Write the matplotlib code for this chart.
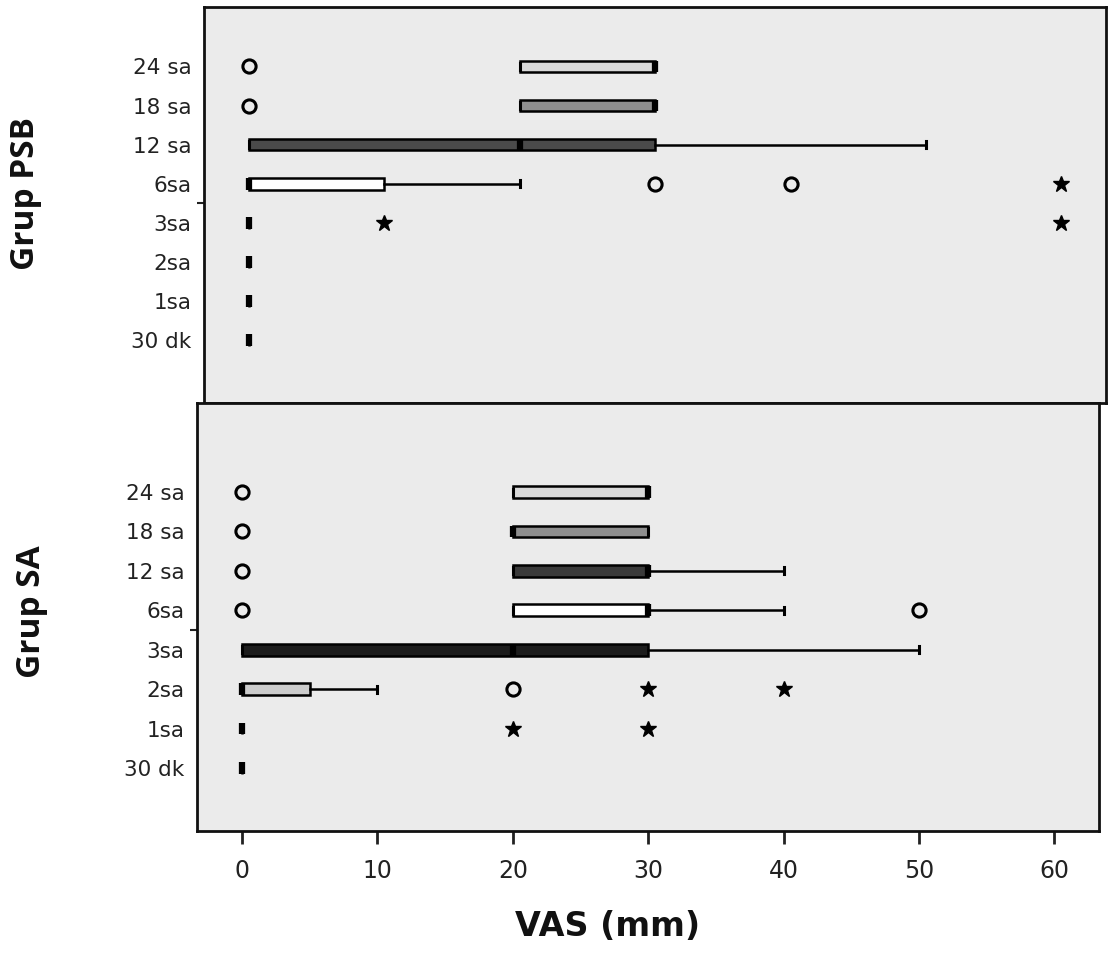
import matplotlib.pyplot as plt

# categories from bottom to top
categories = ['30 dk', '1sa', '2sa', '3sa', '6sa', '12 sa', '18 sa', '24 sa']

# Grup PSB box stats (VAS mm)
psb_q1 = [0, 0, 0, 0, 0, 0, 20, 20]
psb_med = [0, 0, 0, 0, 0, 20, 30, 30]
psb_q3 = [0, 0, 0, 0, 10, 30, 30, 30]
psb_wlo = [0, 0, 0, 0, 0, 0, 20, 20]
psb_whi = [0, 0, 0, 0, 20, 50, 30, 30]
psb_circles = [[], [], [], [], [30, 40], [], [0], [0]]
psb_stars = [[], [], [], [10, 60], [60], [], [], []]
psb_colors = ['#202020', '#202020', '#202020', '#202020', '#ffffff', '#4a4a4a', '#8e8e8e', '#d8d8d8']

# Grup SA box stats (VAS mm)
sa_q1 = [0, 0, 0, 0, 20, 20, 20, 20]
sa_med = [0, 0, 0, 20, 30, 30, 20, 30]
sa_q3 = [0, 0, 5, 30, 30, 30, 30, 30]
sa_wlo = [0, 0, 0, 0, 20, 20, 20, 20]
sa_whi = [0, 0, 10, 50, 40, 40, 30, 30]
sa_circles = [[], [], [20], [], [0, 50], [0], [0], [0]]
sa_stars = [[], [20, 30], [30, 40], [], [], [], [], []]
sa_colors = ['#202020', '#202020', '#cccccc', '#1c1c1c', '#ffffff', '#3a3a3a', '#8e8e8e', '#d8d8d8']

x_ticks = [0, 10, 20, 30, 40, 50, 60]

W, H = 1114, 956
fig = plt.figure(figsize=(W / 100, H / 100), dpi=100)


def px_axes(left, right, top, bottom):
    return fig.add_axes([left / W, 1 - bottom / H, (right - left) / W, (bottom - top) / H])


def draw_group(ax, q1, med, q3, wlo, whi, circles, stars, colors, ylim):
    stats = []
    for i in range(len(categories)):
        stats.append({'q1': q1[i], 'med': med[i], 'q3': q3[i],
                      'whislo': wlo[i], 'whishi': whi[i],
                      'fliers': circles[i], 'label': categories[i]})
    pos = list(range(len(categories)))
    bp = ax.bxp(stats, positions=pos, orientation='horizontal', widths=0.3,
                patch_artist=True, capwidths=0.18,
                boxprops=dict(edgecolor='black', linewidth=1.8),
                medianprops=dict(color='black', linewidth=4.5, solid_capstyle='butt'),
                whiskerprops=dict(color='black', linewidth=1.8),
                capprops=dict(color='black', linewidth=2.2),
                flierprops=dict(marker='o', markersize=9.5, markerfacecolor='none',
                                markeredgecolor='black', markeredgewidth=2.2))
    for patch, c in zip(bp['boxes'], colors):
        patch.set_facecolor(c)
    for i, s in enumerate(stars):
        if s:
            ax.plot(s, [pos[i]] * len(s), linestyle='none', marker='*', markersize=12,
                    color='black')
    ax.set_xlim(-3.33, 63.3)
    ax.set_ylim(*ylim)
    ax.set_facecolor('#ebebeb')
    for sp in ax.spines.values():
        sp.set_linewidth(2)
        sp.set_color('#111111')
    ax.set_yticks(pos)
    ax.set_yticklabels(categories, fontsize=15.5, color='#222222')
    ax.tick_params(axis='y', length=0, pad=9)
    ax.set_yticks([3.5], minor=True)
    ax.tick_params(axis='y', which='minor', length=5, width=1.5, color='#222222')


ax1 = px_axes(204, 1106, 7, 403)
draw_group(ax1, psb_q1, psb_med, psb_q3, psb_wlo, psb_whi, psb_circles, psb_stars,
           psb_colors, (-1.61, 8.52))
ax1.set_xticks([])

ax2 = px_axes(197, 1099, 403, 831)
draw_group(ax2, sa_q1, sa_med, sa_q3, sa_wlo, sa_whi, sa_circles, sa_stars,
           sa_colors, (-1.60, 9.26))
ax2.set_xticks(x_ticks)
ax2.set_xticklabels([str(t) for t in x_ticks], fontsize=17, color='#222222')
ax2.tick_params(axis='x', direction='out', length=9, width=2, pad=11, color='#222222')

fig.text(26 / W, 1 - 193 / H, 'Grup PSB', rotation=90, ha='center', va='center',
         fontsize=24, fontweight='bold', family='Open Sans', color='#111111')
fig.text(32 / W, 1 - 612 / H, 'Grup SA', rotation=90, ha='center', va='center',
         fontsize=24, fontweight='bold', family='Open Sans', color='#111111')
fig.text(608 / W, 1 - 927 / H, 'VAS (mm)', ha='center', va='center',
         fontsize=24, fontweight='bold', color='#111111')

plt.savefig('out.png', dpi=100)
